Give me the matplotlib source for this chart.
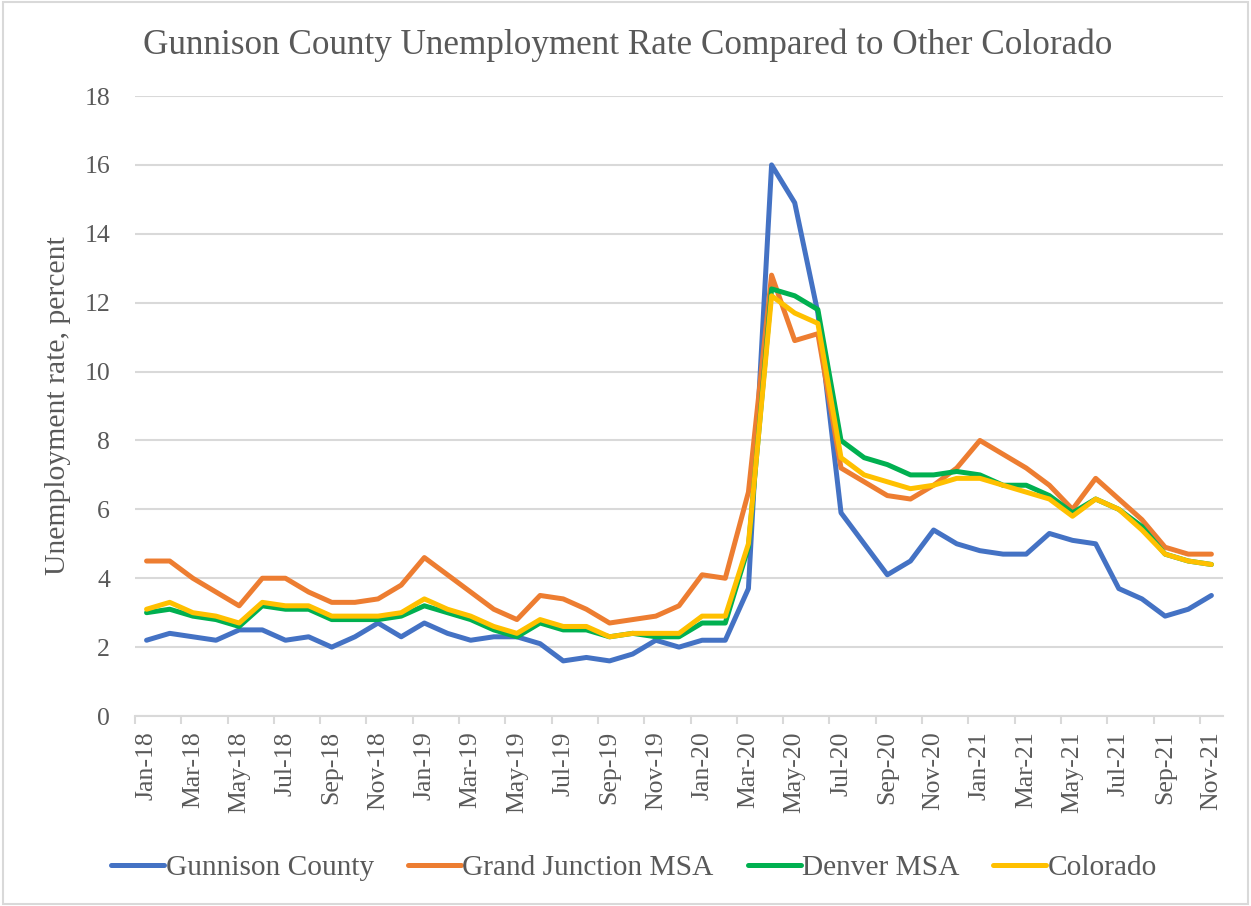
import numpy as np
import pandas as pd
import matplotlib
matplotlib.use("Agg")
import matplotlib.pyplot as plt
from matplotlib.patches import Rectangle

months = list(pd.date_range("2018-01-01", "2021-11-01", freq="MS").strftime("%b-%y"))

gunnison = [2.2, 2.4, 2.3, 2.2, 2.5, 2.5, 2.2, 2.3, 2.0, 2.3, 2.7, 2.3,
            2.7, 2.4, 2.2, 2.3, 2.3, 2.1, 1.6, 1.7, 1.6, 1.8, 2.2, 2.0,
            2.2, 2.2, 3.7, 16.0, 14.9, 11.7, 5.9, 5.0, 4.1, 4.5, 5.4, 5.0,
            4.8, 4.7, 4.7, 5.3, 5.1, 5.0, 3.7, 3.4, 2.9, 3.1, 3.5]
grand_junction = [4.5, 4.5, 4.0, 3.6, 3.2, 4.0, 4.0, 3.6, 3.3, 3.3, 3.4, 3.8,
                  4.6, 4.1, 3.6, 3.1, 2.8, 3.5, 3.4, 3.1, 2.7, 2.8, 2.9, 3.2,
                  4.1, 4.0, 6.5, 12.8, 10.9, 11.1, 7.2, 6.8, 6.4, 6.3, 6.7, 7.2,
                  8.0, 7.6, 7.2, 6.7, 6.0, 6.9, 6.3, 5.7, 4.9, 4.7, 4.7]
denver = [3.0, 3.1, 2.9, 2.8, 2.6, 3.2, 3.1, 3.1, 2.8, 2.8, 2.8, 2.9,
          3.2, 3.0, 2.8, 2.5, 2.3, 2.7, 2.5, 2.5, 2.3, 2.4, 2.3, 2.3,
          2.7, 2.7, 4.9, 12.4, 12.2, 11.8, 8.0, 7.5, 7.3, 7.0, 7.0, 7.1,
          7.0, 6.7, 6.7, 6.4, 5.9, 6.3, 6.0, 5.5, 4.7, 4.5, 4.4]
colorado = [3.1, 3.3, 3.0, 2.9, 2.7, 3.3, 3.2, 3.2, 2.9, 2.9, 2.9, 3.0,
            3.4, 3.1, 2.9, 2.6, 2.4, 2.8, 2.6, 2.6, 2.3, 2.4, 2.4, 2.4,
            2.9, 2.9, 5.0, 12.2, 11.7, 11.4, 7.5, 7.0, 6.8, 6.6, 6.7, 6.9,
            6.9, 6.7, 6.5, 6.3, 5.8, 6.3, 6.0, 5.4, 4.7, 4.5, 4.4]

series_names = ["Gunnison County", "Grand Junction MSA", "Denver MSA", "Colorado"]
colors = ["#4472C4", "#ED7D31", "#00B050", "#FFC000"]
TEXT = "#595959"
GRID = "#D9D9D9"

plt.rcParams['font.family'] = ['Liberation Serif', 'DejaVu Serif']

fig = plt.figure(figsize=(12.51, 9.06), dpi=100)
ax = fig.add_axes([0.1079, 0.2097, 0.8697, 0.6843])

x = np.arange(len(months))
for vals, name, c in zip([gunnison, grand_junction, denver, colorado], series_names, colors):
    ax.plot(x, vals, color=c, lw=3.6, label=name,
            solid_joinstyle='round', solid_capstyle='round')

ax.set_xlim(-0.5, len(months) - 0.5)
ax.set_ylim(0, 18)
ax.set_yticks(range(0, 19, 2))
ax.yaxis.grid(True, color=GRID, lw=1.5)
ax.set_axisbelow(True)

ax.set_xticks(x[::2])
ax.set_xticklabels(months[::2], rotation=90, fontsize=18.5, color=TEXT)
ax.set_xticks(np.arange(-0.5, len(months) - 1, 2), minor=True)
ax.tick_params(axis='x', which='major', length=0, pad=11)
ax.tick_params(axis='x', which='minor', length=6, color=GRID, width=1.5)
ax.tick_params(axis='y', length=0, pad=18, labelsize=18.5, labelcolor=TEXT)

for s in ['top', 'right', 'left']:
    ax.spines[s].set_visible(False)
ax.spines['bottom'].set_color(GRID)
ax.spines['bottom'].set_linewidth(1.5)

ax.set_ylabel("Unemployment rate, percent", fontsize=21.3, color=TEXT)
ax.yaxis.set_label_coords(-0.059, 0.5)

fig.text(0.502, 0.95, "Gunnison County Unemployment Rate Compared to Other Colorado",
         ha='center', va='center', fontsize=25.3, color=TEXT)

fig.legend(loc='center', bbox_to_anchor=(0.507, 0.042), ncol=4, frameon=False,
           fontsize=21.2, handlelength=1.8, handletextpad=0.05, columnspacing=1.15,
           labelcolor=TEXT)

fig.patches.append(Rectangle((0.002, 0.002), 0.996, 0.996, transform=fig.transFigure,
                             fill=False, edgecolor=GRID, lw=1.5))

plt.savefig("out.png", dpi=100)
